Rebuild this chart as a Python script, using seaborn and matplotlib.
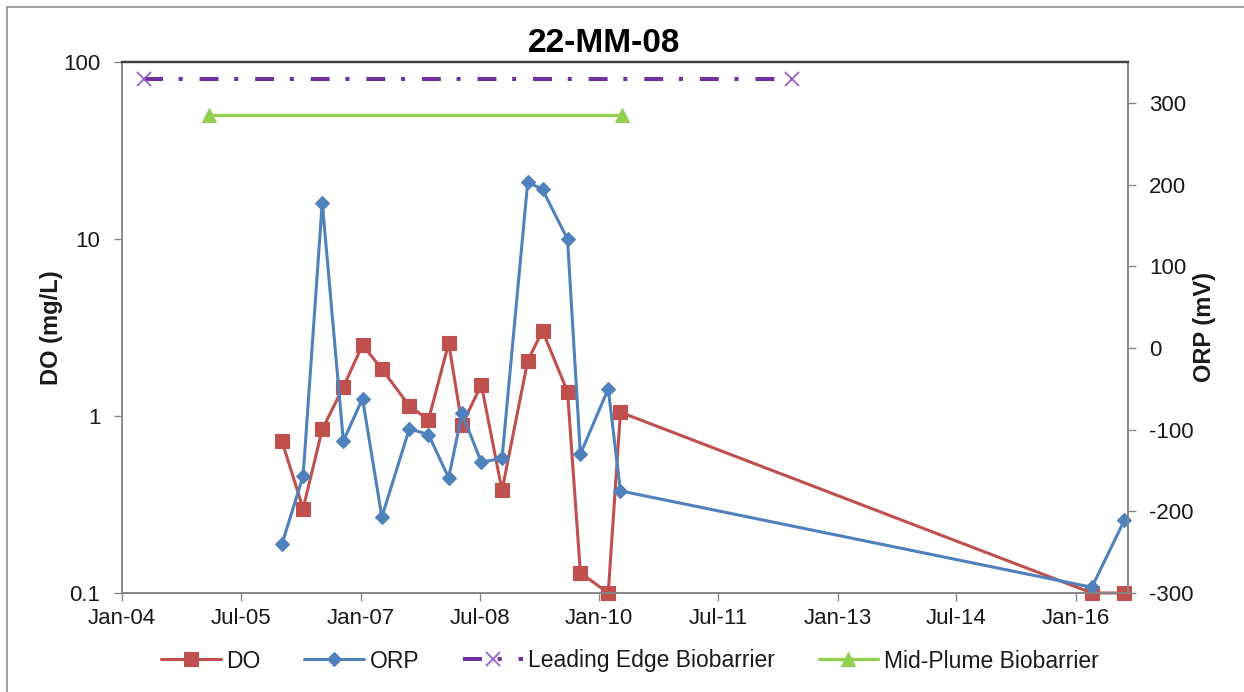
import matplotlib
matplotlib.use("Agg")
import matplotlib.pyplot as plt
import seaborn as sns
import pandas as pd
from matplotlib.patches import Rectangle
from matplotlib import ticker

# sampling dates shared by DO and ORP
sample_dates = [
    "2006-01-05", "2006-04-12", "2006-07-09", "2006-10-14", "2007-01-10",
    "2007-04-09", "2007-08-13", "2007-11-09", "2008-02-10", "2008-04-11",
    "2008-07-09", "2008-10-12", "2009-02-07", "2009-04-16", "2009-08-09",
    "2009-10-07", "2010-02-12", "2010-04-09", "2016-03-14", "2016-08-10",
]
do_values = [
    0.72, 0.30, 0.84, 1.46, 2.52, 1.84, 1.14, 0.95, 2.58, 0.89,
    1.50, 0.38, 2.05, 3.03, 1.37, 0.13, 0.10, 1.05, 0.10, 0.10,
]
orp_values = [
    -240, -157, 178, -114, -62, -207, -99, -106, -159, -80,
    -140, -135, 203, 194, 133, -130, -50, -175, -293, -211,
]

leading_edge_dates = ["2004-04-11", "2012-06-06"]
leading_edge_values = [80, 80]
mid_plume_dates = ["2005-02-06", "2010-04-15"]
mid_plume_values = [50, 50]

x_tick_dates = ["2004-01-01", "2005-07-01", "2007-01-01", "2008-07-01", "2010-01-01",
                "2011-07-01", "2013-01-01", "2014-07-01", "2016-01-01"]
x_tick_labels = ["Jan-04", "Jul-05", "Jan-07", "Jul-08", "Jan-10",
                 "Jul-11", "Jan-13", "Jul-14", "Jan-16"]
do_ticks = [0.1, 1, 10, 100]
do_tick_labels = ["0.1", "1", "10", "100"]
orp_ticks = [-300, -200, -100, 0, 100, 200, 300]

sns.set_style("white")
plt.rcParams["font.family"] = ["Liberation Sans", "DejaVu Sans"]
plt.rcParams["axes.unicode_minus"] = False
text_color = "#1a1a1a"
axis_color = "#868686"

df = pd.DataFrame({"date": pd.to_datetime(sample_dates), "DO": do_values, "ORP": orp_values})
le = pd.DataFrame({"date": pd.to_datetime(leading_edge_dates), "v": leading_edge_values})
mp = pd.DataFrame({"date": pd.to_datetime(mid_plume_dates), "v": mid_plume_values})

fig = plt.figure(figsize=(12.44, 6.92), dpi=100)
ax = fig.add_axes([122 / 1244, 1 - 593 / 692, (1128 - 122) / 1244, (593 - 62) / 692])
ax2 = ax.twinx()

ax.set_yscale("log")

sns.lineplot(data=le, x="date", y="v", ax=ax, color="#7030A0", linewidth=2.9,
             dashes=False, marker="x", markersize=10, markeredgewidth=1.3,
             markeredgecolor="#9363CC", label="Leading Edge Biobarrier",
             legend=False, errorbar=None, clip_on=False)
ax.lines[-1].set_dashes([4.7, 3.9, 1.0, 4.2])

sns.lineplot(data=mp, x="date", y="v", ax=ax, color="#92D050", linewidth=2.4,
             marker="^", markersize=10, markeredgecolor="#92D050",
             label="Mid-Plume Biobarrier", legend=False, errorbar=None, clip_on=False)

sns.lineplot(data=df, x="date", y="DO", ax=ax, color="#C0504D", linewidth=2.2,
             marker="s", markersize=10, markeredgecolor="#C0504D", markeredgewidth=0.8,
             label="DO", legend=False, errorbar=None, clip_on=False)

sns.lineplot(data=df, x="date", y="ORP", ax=ax2, color="#4F81BD", linewidth=2.2,
             marker="D", markersize=7, markeredgecolor="#4F81BD", markeredgewidth=0.8,
             label="ORP", legend=False, errorbar=None, clip_on=False)

ax.set_xlim(pd.Timestamp("2004-01-01"), pd.Timestamp("2016-08-27"))
ax.set_ylim(0.1, 100)
ax2.set_ylim(-300, 350)

ax.set_xticks(pd.to_datetime(x_tick_dates))
ax.set_xticklabels(x_tick_labels)
ax.set_yticks(do_ticks)
ax.yaxis.set_minor_locator(ticker.NullLocator())
ax.set_yticklabels(do_tick_labels)
ax2.set_yticks(orp_ticks)

ax.tick_params(axis="x", direction="out", length=6, width=1, color=axis_color,
               labelsize=16, labelcolor=text_color, pad=5, bottom=True)
ax.tick_params(axis="y", direction="out", length=6, width=1, color=axis_color,
               labelsize=16, labelcolor=text_color, pad=9.5, left=True)
ax2.tick_params(axis="y", direction="out", length=6, width=1, color=axis_color,
                labelsize=16, labelcolor=text_color, pad=9, right=True)

ax.set_xlabel("")
ax.set_ylabel("DO (mg/L)", fontsize=17, fontweight="bold", color=text_color, labelpad=0)
ax2.set_ylabel("ORP (mV)", fontsize=17, fontweight="bold", color=text_color, labelpad=0)

for a in (ax, ax2):
    for side in ("left", "right", "bottom"):
        a.spines[side].set_color(axis_color)
        a.spines[side].set_linewidth(1.2)
    a.spines["top"].set_color("#404040")
    a.spines["top"].set_linewidth(1.6)

fig.text(604 / 1244, 1 - 52 / 692, "22-MM-08", ha="center", va="baseline",
         fontsize=24, fontweight="bold", color="black")

h1, l1 = ax.get_legend_handles_labels()
h2, l2 = ax2.get_legend_handles_labels()
lookup = dict(zip(l1 + l2, h1 + h2))
order = ["DO", "ORP", "Leading Edge Biobarrier", "Mid-Plume Biobarrier"]
fig.legend([lookup[k] for k in order], order, loc="center", ncol=4,
           bbox_to_anchor=(630 / 1244, 1 - 661 / 692), frameon=False,
           fontsize=16.5, handlelength=2.6, handletextpad=0.25, columnspacing=1.9,
           labelcolor=text_color)

fig.patches.append(Rectangle((7 / 1244, -0.1), 1.2, 1.1 - 7 / 692, transform=fig.transFigure,
                             fill=False, edgecolor="#8c8c8c", linewidth=1.2, clip_on=False))

fig.savefig("out.png", dpi=100)
plt.close(fig)
